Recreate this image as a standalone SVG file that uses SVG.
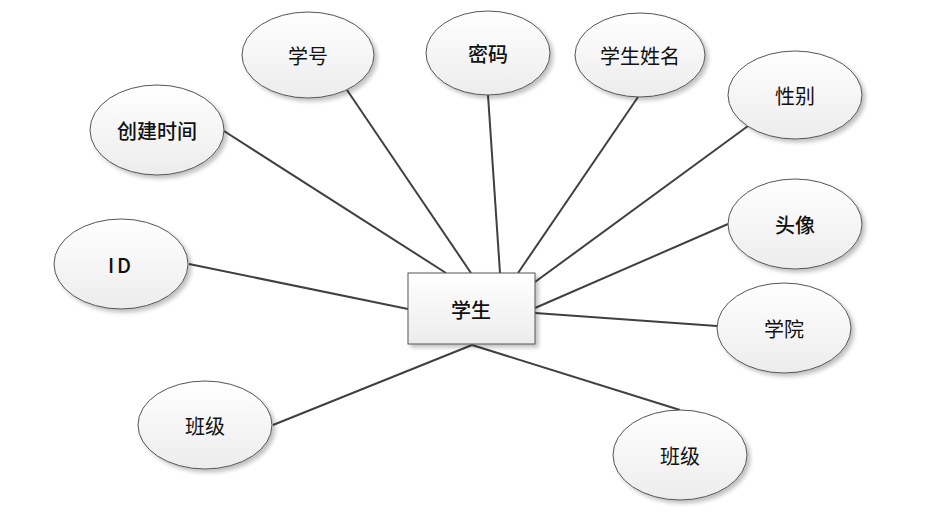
<svg xmlns="http://www.w3.org/2000/svg" width="938" height="532" viewBox="0 0 938 532">
<defs>
<linearGradient id="g" x1="0" y1="0" x2="0" y2="1">
<stop offset="0" stop-color="#ffffff"/>
<stop offset="1" stop-color="#ececec"/>
</linearGradient>
<filter id="sh" x="-10%" y="-10%" width="130%" height="130%">
<feGaussianBlur in="SourceAlpha" stdDeviation="2"/>
<feOffset dx="3" dy="3" result="b"/>
<feComponentTransfer><feFuncA type="linear" slope="0.25"/></feComponentTransfer>
<feMerge><feMergeNode/><feMergeNode in="SourceGraphic"/></feMerge>
</filter>
</defs>
<style>
.e{fill:url(#g);stroke:#555;stroke-width:1;filter:url(#sh)}
.t{font-family:"Noto Sans CJK SC","Noto Sans",sans-serif;font-size:20px;fill:#111;text-anchor:middle;dominant-baseline:central}
.b{font-weight:500}
.c line{stroke:#404040;stroke-width:2}
</style>
<rect width="938" height="532" fill="#fff"/>
<g class="c" id="connectors">
<line x1="224" y1="131" x2="446" y2="273"/>
<line x1="347" y1="90" x2="471" y2="273"/>
<line x1="488" y1="95" x2="500" y2="273"/>
<line x1="638" y1="97" x2="518" y2="273"/>
<line x1="748" y1="126" x2="535" y2="282"/>
<line x1="728" y1="224" x2="535" y2="308"/>
<line x1="717" y1="326" x2="535" y2="313"/>
<line x1="189" y1="264" x2="408" y2="309"/>
<line x1="273" y1="425" x2="472" y2="345"/>
<line x1="680" y1="410" x2="472" y2="345"/>
</g>
<g id="student"><rect x="408" y="273" width="127" height="71" class="e"/><text x="471" y="309" class="t b">学生</text></g>
<g id="xuehao"><ellipse cx="308" cy="55" rx="66" ry="43" class="e"/><text x="308" y="55" class="t">学号</text></g>
<g id="mima"><ellipse cx="488" cy="53" rx="62" ry="42" class="e"/><text x="488" y="53" class="t b">密码</text></g>
<g id="xingming"><ellipse cx="640" cy="55" rx="65" ry="42" class="e"/><text x="640" y="55" class="t">学生姓名</text></g>
<g id="xingbie"><ellipse cx="795" cy="95" rx="67" ry="44" class="e"/><text x="795" y="95" class="t">性别</text></g>
<g id="chuangjian"><ellipse cx="157" cy="130" rx="67" ry="45" class="e"/><text x="157" y="130" class="t b">创建时间</text></g>
<g id="id"><ellipse cx="121" cy="264" rx="67" ry="45" class="e"/><text x="121" y="264" class="t b" letter-spacing="3">ID</text></g>
<g id="touxiang"><ellipse cx="795" cy="224" rx="67" ry="45" class="e"/><text x="795" y="224" class="t b">头像</text></g>
<g id="xueyuan"><ellipse cx="784" cy="328" rx="67" ry="45" class="e"/><text x="784" y="328" class="t">学院</text></g>
<g id="banji1"><ellipse cx="205" cy="425" rx="67" ry="44" class="e"/><text x="205" y="425" class="t">班级</text></g>
<g id="banji2"><ellipse cx="680" cy="455" rx="67" ry="45" class="e"/><text x="680" y="455" class="t">班级</text></g>
</svg>
